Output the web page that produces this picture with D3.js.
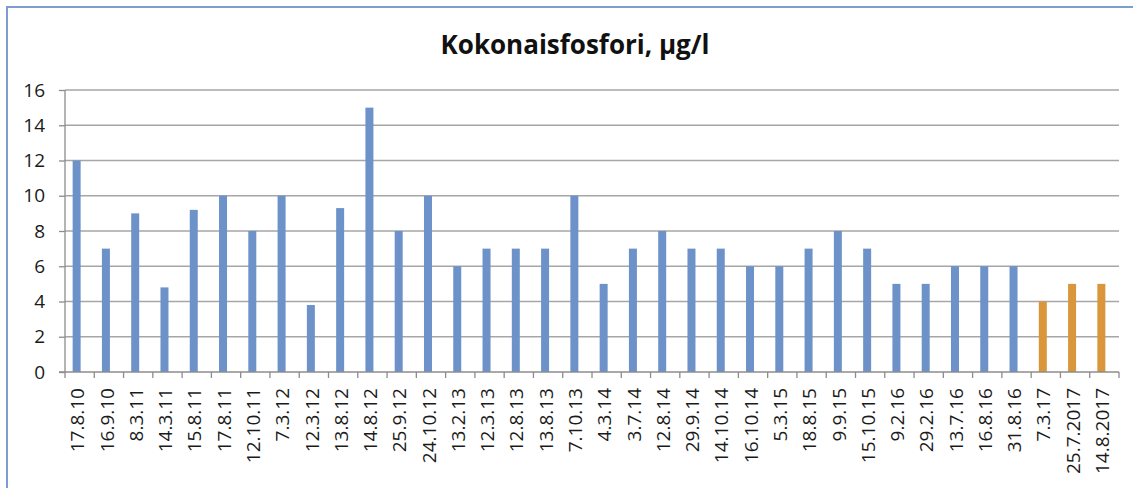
<html>
<head>
  <meta http-equiv='Content-Type' content='text/html;charset=utf-8'>
  <script src="https://cdn.jsdelivr.net/npm/d3@7"></script>
  <style>
    body { margin: 0; background: #fff; font-family: 'Open Sans', Arial, sans-serif; }
    svg { display: block; }
    .grid line { stroke: #a6a6a6; stroke-width: 1.3; }
    .axis path, .axis line { stroke: #8c8c8c; stroke-width: 1.3; }
    .axis text { font-size: 19px; fill: #1a1a1a; font-family: 'Open Sans', sans-serif; }
  </style>
</head>
<body>
<div id="chart"></div>
<script>
var dates = ['17.8.10', '16.9.10', '8.3.11', '14.3.11', '15.8.11', '17.8.11', '12.10.11', '7.3.12',
  '12.3.12', '13.8.12', '14.8.12', '25.9.12', '24.10.12', '13.2.13', '12.3.13', '12.8.13', '13.8.13',
  '7.10.13', '4.3.14', '3.7.14', '12.8.14', '29.9.14', '14.10.14', '16.10.14', '5.3.15', '18.8.15',
  '9.9.15', '15.10.15', '9.2.16', '29.2.16', '13.7.16', '16.8.16', '31.8.16', '7.3.17', '25.7.2017',
  '14.8.2017'];
var phosphorus = [12, 7, 9, 4.8, 9.2, 10, 8, 10, 3.8, 9.3, 15, 8, 10, 6, 7, 7, 7, 10, 5, 7, 8, 7, 7,
  6, 6, 7, 8, 7, 5, 5, 6, 6, 6, 4, 5, 5];
// last three samples are highlighted in orange
var highlighted = ['7.3.17', '25.7.2017', '14.8.2017'];
var yTicks = [0, 2, 4, 6, 8, 10, 12, 14, 16];

var W = 1133, H = 488,
    m = { top: 90, right: 14, bottom: 116, left: 65 },
    w = W - m.left - m.right,
    h = H - m.top - m.bottom,
    barW = 8;

var svg = d3.select('#chart').append('svg')
    .attr('width', W)
    .attr('height', H);

// chart frame
svg.append('rect')
    .attr('x', 7).attr('y', 7)
    .attr('width', W + 20).attr('height', H + 20)
    .attr('fill', 'none')
    .attr('stroke', '#7d9dd2')
    .attr('stroke-width', 2);

svg.append('text')
    .attr('x', 575).attr('y', 54)
    .attr('text-anchor', 'middle')
    .style('font-family', "'Open Sans', sans-serif")
    .style('font-weight', 700)
    .style('font-size', '26px')
    .style('fill', '#111')
    .text('Kokonaisfosfori, µg/l');

var g = svg.append('g')
    .attr('transform', 'translate(' + m.left + ',' + m.top + ')');

var x = d3.scaleBand().domain(dates).range([0, w]);
var y = d3.scaleLinear().domain([0, 16]).range([h, 0]);

g.append('g').attr('class', 'grid')
  .selectAll('line')
  .data(yTicks.filter(function(d) { return d > 0; }))
  .enter().append('line')
    .attr('x1', 0).attr('x2', w)
    .attr('y1', function(d) { return y(d); })
    .attr('y2', function(d) { return y(d); });

g.selectAll('rect.bar')
  .data(phosphorus)
  .enter().append('rect')
    .attr('class', 'bar')
    .attr('x', function(d, i) { return x(dates[i]) + x.bandwidth() / 2 - barW / 2 - 3; })
    .attr('y', function(d) { return y(d); })
    .attr('width', barW)
    .attr('height', function(d) { return h - y(d); })
    .attr('fill', function(d, i) {
      return highlighted.indexOf(dates[i]) >= 0 ? '#d9963b' : '#6d92c9';
    });

var yAxis = g.append('g').attr('class', 'axis')
    .call(d3.axisLeft(y).tickValues(yTicks).tickSize(6).tickPadding(14));
yAxis.select('.domain').attr('d', 'M0,' + h + 'V0');

var xAxis = g.append('g').attr('class', 'axis')
    .attr('transform', 'translate(0,' + h + ')')
    .call(d3.axisBottom(x).tickSize(0).tickSizeOuter(0));
xAxis.select('.domain').attr('d', 'M-6,0H' + w);

// tick marks sit on the category boundaries
xAxis.selectAll('line.sep')
  .data(d3.range(dates.length + 1))
  .enter().append('line')
    .attr('class', 'sep')
    .attr('x1', function(i) { return i * x.step(); })
    .attr('x2', function(i) { return i * x.step(); })
    .attr('y1', 0).attr('y2', 6);

xAxis.selectAll('.tick text')
    .attr('transform', 'rotate(-90)')
    .attr('text-anchor', 'end')
    .attr('x', -16)
    .attr('y', -2)
    .attr('dy', '0.35em');
</script>
</body>
</html>
